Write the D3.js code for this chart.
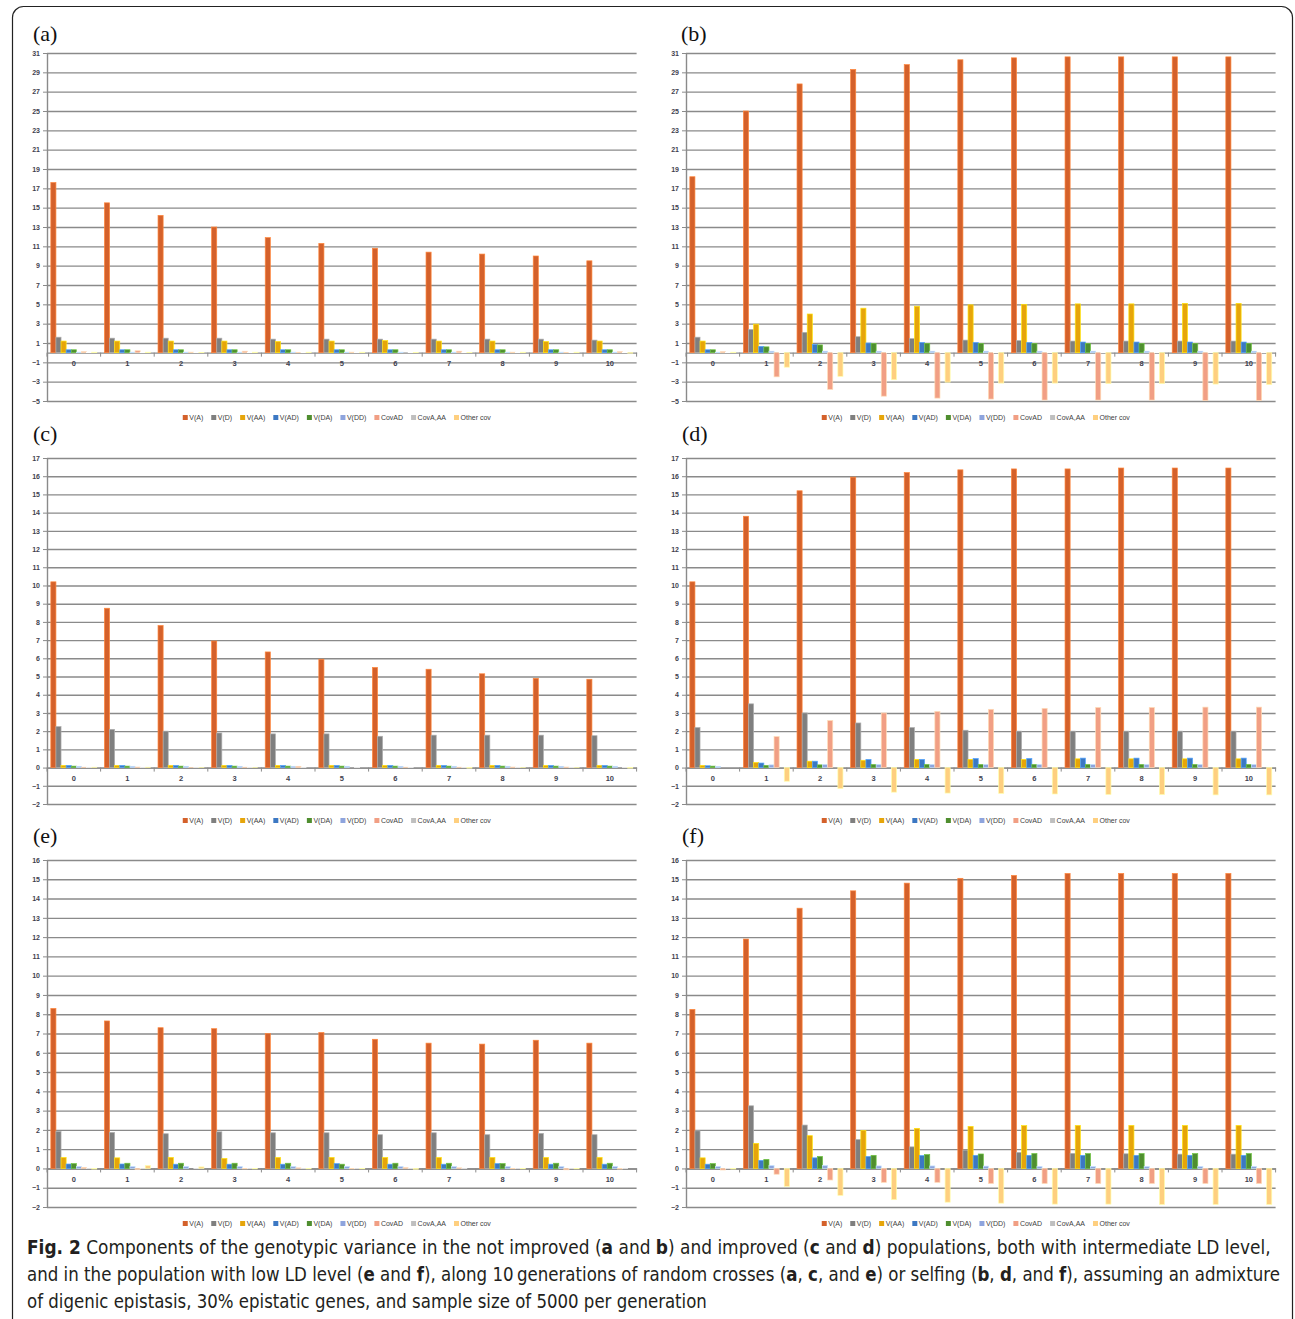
<!DOCTYPE html>
<html>
<head>
<meta charset="utf-8">
<script src="https://cdn.jsdelivr.net/npm/d3@7"></script>
<style>
  body { margin: 0; background: #fff; }
</style>
</head>
<body>
<svg id="fig" width="1295" height="1319"></svg>
<script>
// generations on the x axis and the nine variance components
const generations = ["0", "1", "2", "3", "4", "5", "6", "7", "8", "9", "10"];
const seriesNames = ["V(A)", "V(D)", "V(AA)", "V(AD)", "V(DA)", "V(DD)", "CovAD", "CovA,AA", "Other cov"];
const seriesColors = ["#d4612b", "#7f7f7f", "#e6a50a", "#3c78c3", "#4f8e2f", "#8ea4dd", "#f19f84", "#bfbfbf", "#fecf7f"];

// y tick labels
const ticksAB = [-5, -3, -1, 1, 3, 5, 7, 9, 11, 13, 15, 17, 19, 21, 23, 25, 27, 29, 31];
const ticksCD = [-2, -1, 0, 1, 2, 3, 4, 5, 6, 7, 8, 9, 10, 11, 12, 13, 14, 15, 16, 17];
const ticksEF = [-2, -1, 0, 1, 2, 3, 4, 5, 6, 7, 8, 9, 10, 11, 12, 13, 14, 15, 16];

// one row per series (same order as seriesNames), one value per generation
const panelA = [
  [17.6, 15.5, 14.2, 13.0, 11.9, 11.3, 10.8, 10.4, 10.2, 10.0, 9.5],
  [1.6, 1.5, 1.5, 1.5, 1.4, 1.4, 1.4, 1.4, 1.4, 1.4, 1.3],
  [1.2, 1.2, 1.2, 1.2, 1.15, 1.2, 1.25, 1.2, 1.2, 1.15, 1.2],
  [0.3, 0.3, 0.3, 0.3, 0.3, 0.3, 0.3, 0.3, 0.3, 0.3, 0.3],
  [0.3, 0.3, 0.3, 0.3, 0.3, 0.3, 0.3, 0.3, 0.3, 0.3, 0.3],
  [0.05, 0.05, 0.05, 0.05, 0.05, 0.05, 0.05, 0.05, 0.05, 0.05, 0.05],
  [0.1, 0.2, 0.05, 0.15, 0.02, 0.05, 0.0, 0.15, 0.05, 0.02, 0.1],
  [0.02, 0.02, 0.02, 0.02, 0.02, 0.02, 0.02, 0.02, 0.02, 0.02, 0.02],
  [0.05, 0.05, 0.02, 0.05, 0.05, 0.05, 0.02, 0.02, 0.05, 0.05, -0.05]
];
const panelB = [
  [18.2, 25.0, 27.8, 29.3, 29.8, 30.3, 30.5, 30.6, 30.6, 30.6, 30.6],
  [1.6, 2.4, 2.1, 1.65, 1.45, 1.3, 1.25, 1.2, 1.2, 1.2, 1.2],
  [1.2, 2.95, 4.0, 4.6, 4.8, 4.95, 5.0, 5.05, 5.05, 5.1, 5.1],
  [0.3, 0.65, 0.85, 1.0, 1.05, 1.05, 1.05, 1.1, 1.1, 1.1, 1.1],
  [0.3, 0.6, 0.8, 0.95, 0.95, 0.95, 0.95, 0.95, 0.95, 0.95, 0.95],
  [0.05, 0.15, 0.15, 0.15, 0.15, 0.15, 0.15, 0.15, 0.15, 0.15, 0.15],
  [0.1, -2.5, -3.8, -4.5, -4.7, -4.8, -4.9, -4.9, -4.9, -4.95, -4.95],
  [0.02, 0.05, 0.05, 0.05, 0.05, 0.05, 0.05, 0.05, 0.05, 0.05, 0.05],
  [0.05, -1.5, -2.45, -2.8, -3.05, -3.15, -3.15, -3.2, -3.2, -3.25, -3.3]
];
const panelC = [
  [10.2, 8.75, 7.8, 6.95, 6.35, 5.95, 5.5, 5.4, 5.15, 4.9, 4.85],
  [2.25, 2.1, 2.0, 1.9, 1.85, 1.85, 1.72, 1.78, 1.78, 1.78, 1.75],
  [0.12, 0.12, 0.12, 0.12, 0.12, 0.12, 0.12, 0.12, 0.12, 0.12, 0.12],
  [0.12, 0.12, 0.12, 0.12, 0.12, 0.12, 0.12, 0.12, 0.12, 0.12, 0.12],
  [0.08, 0.08, 0.08, 0.08, 0.08, 0.08, 0.08, 0.08, 0.08, 0.08, 0.08],
  [0.07, 0.07, 0.07, 0.07, 0.07, 0.07, 0.07, 0.07, 0.07, 0.07, 0.07],
  [0.02, 0.03, 0.01, 0.02, 0.07, 0.0, 0.02, 0.02, 0.03, 0.03, 0.0],
  [0.02, 0.02, 0.02, 0.02, 0.02, 0.02, 0.02, 0.02, 0.02, 0.02, 0.02],
  [0.02, 0.02, 0.01, 0.01, 0.0, 0.0, 0.0, -0.03, 0.01, 0.01, -0.03]
];
const panelD = [
  [10.2, 13.8, 15.2, 15.95, 16.2, 16.35, 16.4, 16.4, 16.45, 16.45, 16.45],
  [2.2, 3.5, 3.0, 2.45, 2.2, 2.05, 2.0, 2.0, 2.0, 2.0, 2.0],
  [0.12, 0.28, 0.35, 0.4, 0.45, 0.45, 0.45, 0.48, 0.48, 0.48, 0.48],
  [0.1, 0.25, 0.35, 0.45, 0.45, 0.5, 0.5, 0.52, 0.52, 0.52, 0.52],
  [0.08, 0.12, 0.15, 0.17, 0.17, 0.17, 0.17, 0.17, 0.17, 0.17, 0.17],
  [0.06, 0.15, 0.17, 0.17, 0.17, 0.17, 0.17, 0.17, 0.17, 0.17, 0.17],
  [0.0, 1.7, 2.58, 3.0, 3.08, 3.2, 3.25, 3.3, 3.3, 3.32, 3.32],
  [0.0, 0.0, 0.0, 0.0, 0.0, 0.0, 0.0, 0.0, 0.0, 0.0, 0.0],
  [0.0, -0.75, -1.15, -1.35, -1.4, -1.42, -1.45, -1.48, -1.48, -1.5, -1.5]
];
const panelE = [
  [8.3, 7.65, 7.3, 7.25, 7.0, 7.05, 6.7, 6.5, 6.45, 6.65, 6.5],
  [1.92, 1.87, 1.8, 1.9, 1.85, 1.85, 1.75, 1.85, 1.75, 1.82, 1.75],
  [0.57, 0.55, 0.57, 0.52, 0.57, 0.57, 0.57, 0.57, 0.57, 0.57, 0.57],
  [0.23, 0.23, 0.22, 0.22, 0.22, 0.25, 0.22, 0.22, 0.25, 0.22, 0.22],
  [0.25, 0.27, 0.27, 0.27, 0.27, 0.22, 0.27, 0.27, 0.25, 0.27, 0.27],
  [0.1, 0.1, 0.1, 0.1, 0.1, 0.1, 0.1, 0.1, 0.1, 0.1, 0.1],
  [0.05, -0.05, 0.0, -0.02, 0.03, -0.02, 0.04, 0.03, -0.02, -0.07, -0.03],
  [0.01, 0.01, 0.01, 0.01, 0.01, 0.01, 0.01, 0.01, 0.01, 0.01, 0.01],
  [-0.03, 0.15, 0.08, -0.02, -0.02, -0.02, -0.04, 0.0, -0.02, -0.02, 0.0]
];
const panelF = [
  [8.25, 11.9, 13.5, 14.4, 14.8, 15.05, 15.2, 15.3, 15.3, 15.3, 15.3],
  [1.95, 3.25, 2.25, 1.5, 1.12, 0.95, 0.83, 0.78, 0.76, 0.74, 0.74],
  [0.55, 1.3, 1.7, 1.97, 2.08, 2.18, 2.22, 2.23, 2.23, 2.23, 2.23],
  [0.22, 0.42, 0.55, 0.62, 0.67, 0.68, 0.68, 0.68, 0.68, 0.68, 0.68],
  [0.25, 0.47, 0.62, 0.68, 0.72, 0.75, 0.77, 0.77, 0.77, 0.77, 0.77],
  [0.1, 0.15, 0.15, 0.13, 0.13, 0.12, 0.1, 0.1, 0.1, 0.1, 0.1],
  [-0.08, -0.3, -0.6, -0.72, -0.72, -0.78, -0.78, -0.78, -0.78, -0.78, -0.78],
  [0.02, 0.0, 0.0, 0.0, 0.0, 0.0, 0.0, 0.0, 0.0, 0.0, 0.0],
  [-0.03, -0.93, -1.4, -1.62, -1.75, -1.8, -1.85, -1.85, -1.87, -1.87, -1.87]
];

// caption, [text, bold] pieces per line
const captionLines = [
  [["Fig. 2", true], ["  Components of the genotypic variance in the not improved (", false], ["a", true], [" and ", false], ["b", true],
   [") and improved (", false], ["c", true], [" and ", false], ["d", true], [") populations, both with intermediate LD level,", false]],
  [["and in the population with low LD level (", false], ["e", true], [" and ", false], ["f", true],
   ["), along 10\u2009generations of random crosses (", false], ["a", true], [", ", false], ["c", true], [", and ", false], ["e", true],
   [") or selfing (", false], ["b", true], [", ", false], ["d", true], [", and ", false], ["f", true], ["), assuming an admixture", false]],
  [["of digenic epistasis, 30% epistatic genes, and sample size of 5000 per generation", false]]
];

const svg = d3.select("#fig");
const plotW = 589.6;
const gridColor = "#8a8a8a";
const tickFont = "'Liberation Sans', Arial, sans-serif";

// outer frame
svg.append("rect")
  .attr("x", 12.5).attr("y", 6.5)
  .attr("width", 1280).attr("height", 1340)
  .attr("rx", 11)
  .attr("fill", "none").attr("stroke", "#222").attr("stroke-width", 1.2);

const panels = [
  { tag: "(a)", data: panelA, ticks: ticksAB, left: 47,  top: 53,  bottom: 401,  labX: 33,  labY: 41 },
  { tag: "(b)", data: panelB, ticks: ticksAB, left: 686, top: 53,  bottom: 401,  labX: 681, labY: 41 },
  { tag: "(c)", data: panelC, ticks: ticksCD, left: 47,  top: 458, bottom: 804,  labX: 33,  labY: 441 },
  { tag: "(d)", data: panelD, ticks: ticksCD, left: 686, top: 458, bottom: 804,  labX: 682, labY: 441 },
  { tag: "(e)", data: panelE, ticks: ticksEF, left: 47,  top: 860, bottom: 1207, labX: 33,  labY: 843 },
  { tag: "(f)", data: panelF, ticks: ticksEF, left: 686, top: 860, bottom: 1207, labX: 682, labY: 843 }
];

function drawPanel(p) {
  const g = svg.append("g");

  const y = d3.scaleLinear()
    .domain([p.ticks[0], p.ticks[p.ticks.length - 1]])
    .range([p.bottom, p.top]);
  const x0 = d3.scaleBand().domain(generations).range([p.left, p.left + plotW]);
  const x1 = d3.scaleBand().domain(seriesNames).range([0, x0.bandwidth()]).paddingOuter(0.75);

  // panel letter
  g.append("text")
    .attr("x", p.labX).attr("y", p.labY)
    .attr("font-family", "'Liberation Serif', 'Times New Roman', serif")
    .attr("font-size", 22).attr("fill", "#111")
    .text(p.tag);

  // gridlines
  const grid = g.append("g")
    .attr("transform", `translate(${p.left},0)`)
    .call(d3.axisLeft(y).tickValues(p.ticks).tickSize(-plotW).tickFormat(""));
  grid.select(".domain").remove();
  grid.selectAll(".tick line").attr("stroke", gridColor).attr("stroke-width", 1.4);

  // y axis with short outer ticks and labels
  const yAxis = g.append("g")
    .attr("transform", `translate(${p.left},0)`)
    .call(d3.axisLeft(y).tickValues(p.ticks).tickSize(4).tickSizeOuter(0).tickPadding(3));
  yAxis.select(".domain").attr("stroke", gridColor).attr("stroke-width", 1.4);
  yAxis.selectAll(".tick line").attr("stroke", gridColor);
  yAxis.selectAll(".tick text")
    .attr("font-family", tickFont).attr("font-size", 7).attr("font-weight", "bold").attr("fill", "#3f3f4f");

  // category axis at zero
  const xAxis = g.append("g")
    .attr("transform", `translate(0,${y(0)})`)
    .call(d3.axisBottom(x0).tickSize(0).tickPadding(8));
  xAxis.select(".domain").attr("stroke", gridColor).attr("stroke-width", 1.4);
  xAxis.selectAll(".tick text")
    .attr("font-family", tickFont).attr("font-size", 7.5).attr("font-weight", "bold").attr("fill", "#3f3f4f");

  // tick marks on band boundaries
  const bounds = generations.map(d => x0(d)).concat([x0.range()[1]]);
  g.append("g").selectAll("line").data(bounds).join("line")
    .attr("x1", d => d).attr("x2", d => d)
    .attr("y1", y(0)).attr("y2", y(0) + 4)
    .attr("stroke", gridColor).attr("stroke-width", 1);

  // bars
  const cells = [];
  p.data.forEach((row, i) => row.forEach((v, j) => cells.push({ s: i, gen: generations[j], v: v })));
  g.append("g").selectAll("rect").data(cells).join("rect")
    .attr("x", d => x0(d.gen) + x1(seriesNames[d.s]))
    .attr("y", d => y(Math.max(0, d.v)))
    .attr("width", x1.bandwidth())
    .attr("height", d => Math.abs(y(d.v) - y(0)))
    .attr("fill", d => seriesColors[d.s])
    .attr("stroke", d => d3.color(seriesColors[d.s]).brighter(0.9))
    .attr("stroke-width", 0.7);

  // legend, centred under the plot
  const leg = g.append("g");
  let cx = 0;
  seriesNames.forEach((name, i) => {
    const item = leg.append("g").attr("transform", `translate(${cx},0)`);
    item.append("rect")
      .attr("x", 0).attr("y", -5).attr("width", 5).attr("height", 5)
      .attr("fill", seriesColors[i]);
    const t = item.append("text")
      .attr("x", 6.5).attr("y", 0)
      .attr("font-family", tickFont).attr("font-size", 7).attr("fill", "#404040")
      .text(name);
    cx += 6.5 + t.node().getComputedTextLength() + 8;
  });
  const legW = cx - 8;
  leg.attr("transform", `translate(${p.left + plotW / 2 - 5 - legW / 2},${p.bottom + 19})`);
}

panels.forEach(drawPanel);

// caption: natural layout, then squeezed horizontally to the measured line width
const capFont = "'DejaVu Sans Condensed', 'Liberation Sans Narrow', 'Open Sans', sans-serif";
const capWidths = [1244, 1253, 680];
captionLines.forEach((line, k) => {
  const t = svg.append("text")
    .attr("x", 0).attr("y", 0)
    .attr("font-family", capFont).attr("font-size", 19).attr("fill", "#231f20")
    .attr("font-stretch", "condensed");
  line.forEach(([txt, bold]) => {
    t.append("tspan")
      .attr("font-weight", bold ? "bold" : "normal")
      .text(txt);
  });
  const w = t.node().getComputedTextLength();
  t.attr("transform", `translate(27,${1254 + k * 27}) scale(${capWidths[k] / w},1)`);
});
</script>
</body>
</html>
